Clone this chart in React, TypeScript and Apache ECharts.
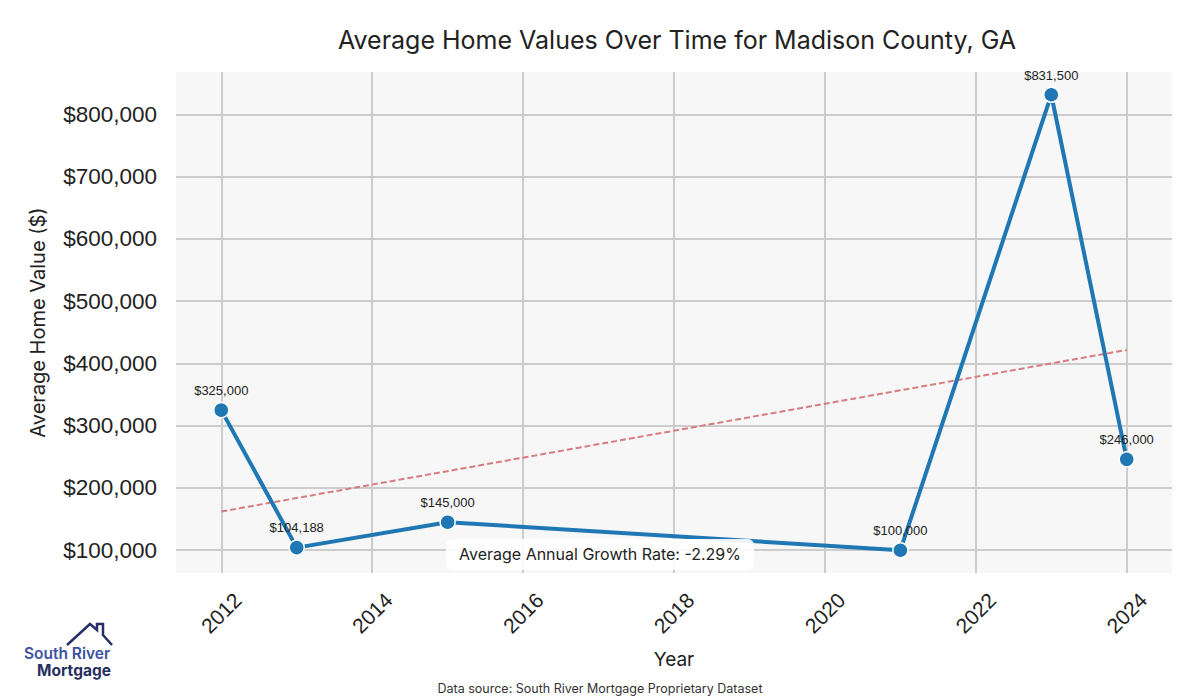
import React, { useEffect, useRef } from "react";
import * as echarts from "echarts";

const years = [2012, 2013, 2015, 2021, 2023, 2024];
const homeValues = [325000, 104188, 145000, 100000, 831500, 246000];
const trendYears = [2012, 2024];
const trendValues = [162200, 421700];
const xTicks = [2012, 2014, 2016, 2018, 2020, 2022, 2024];
const yTicks = [100000, 200000, 300000, 400000, 500000, 600000, 700000, 800000];
const titleText = "Average Home Values Over Time for Madison County, GA";
const growthText = "Average Annual Growth Rate: -2.29%";
const sourceText = "Data source: South River Mortgage Proprietary Dataset";

const fmt = (v: number) => "$" + Math.round(v).toLocaleString("en-US");

export default function App() {
  const ref = useRef<HTMLDivElement>(null);
  useEffect(() => {
    document.body.style.margin = "0";
    const chart = echarts.init(ref.current!, null, { renderer: "svg" });
    const uiFont = "Inter, 'Open Sans', sans-serif";
    const tickFont = "'Liberation Sans', Arial, sans-serif";
    chart.setOption({
      animation: false,
      backgroundColor: "#ffffff",
      title: {
        text: titleText,
        left: 672,
        top: 22,
        textAlign: "center",
        textStyle: { fontFamily: uiFont, fontSize: 25, fontWeight: "normal", color: "#222" },
      },
      grid: {
        left: 176,
        right: 28,
        top: 72,
        bottom: 127,
        show: true,
        backgroundColor: "#f7f7f7",
        borderWidth: 0,
      },
      xAxis: {
        type: "value",
        min: 2011.4,
        max: 2024.6,
        name: "Year",
        nameLocation: "middle",
        nameGap: 77,
        nameTextStyle: { fontFamily: uiFont, fontSize: 19, color: "#222" },
        axisLine: { show: false },
        axisTick: { show: false, customValues: xTicks },
        axisLabel: {
          customValues: xTicks,
          rotate: 45,
          align: "center",
          verticalAlign: "middle",
          margin: 40,
          fontFamily: tickFont,
          fontSize: 21,
          color: "#222",
          formatter: (v: number) => String(v),
        },
        splitLine: { show: true, lineStyle: { color: "#cccccc", width: 2 } },
      },
      yAxis: {
        type: "value",
        min: 63425,
        max: 868075,
        name: "Average Home Value ($)",
        nameLocation: "middle",
        nameGap: 128,
        nameRotate: 90,
        nameTextStyle: { fontFamily: uiFont, fontSize: 20, color: "#222" },
        axisLine: { show: false },
        axisTick: { show: false, customValues: yTicks },
        axisLabel: {
          customValues: yTicks,
          margin: 19,
          fontFamily: tickFont,
          fontSize: 22.5,
          color: "#222",
          formatter: (v: number) => fmt(v),
        },
        splitLine: { show: true, lineStyle: { color: "#cccccc", width: 2 } },
      },
      series: [
        {
          type: "line",
          data: trendYears.map((y, i) => [y, trendValues[i]]),
          symbol: "none",
          lineStyle: { color: "#d67d7f", width: 2, type: [6, 3] },
          z: 2,
          silent: true,
        },
        {
          type: "line",
          data: years.map((y, i) => [y, homeValues[i]]),
          symbol: "circle",
          symbolSize: 15,
          lineStyle: { color: "#1f77b4", width: 4 },
          itemStyle: { color: "#1f77b4", borderColor: "#ffffff", borderWidth: 1.5 },
          label: {
            show: true,
            position: "top",
            distance: 5,
            fontFamily: tickFont,
            fontSize: 13,
            color: "#222",
            formatter: (p: any) => fmt(p.value[1]),
          },
          z: 3,
        },
      ],
      graphic: [
        {
          type: "rect",
          z: 100,
          shape: { x: 446, y: 539, width: 308, height: 31, r: 6 },
          style: { fill: "rgba(255,255,255,0.9)" },
        },
        {
          type: "text",
          z: 101,
          x: 600,
          y: 554,
          style: {
            text: growthText,
            fontFamily: uiFont,
            fontSize: 16,
            fill: "#222",
            align: "center",
            verticalAlign: "middle",
          },
        },
        {
          type: "text",
          x: 600,
          y: 688,
          style: {
            text: sourceText,
            fontFamily: uiFont,
            fontSize: 12.5,
            fill: "#333",
            align: "center",
            verticalAlign: "middle",
          },
        },
        {
          type: "polyline",
          shape: {
            points: [
              [67, 645],
              [90, 624],
              [97, 630],
              [97, 624],
              [103, 624],
              [103, 635],
              [112, 645],
            ],
          },
          style: { stroke: "#262f66", lineWidth: 2.5, fill: null },
        },
        {
          type: "text",
          x: 67,
          y: 653,
          style: {
            text: "South River",
            fontFamily: uiFont,
            fontSize: 15.5,
            fontWeight: 600,
            fill: "#3d52a0",
            align: "center",
            verticalAlign: "middle",
          },
        },
        {
          type: "text",
          x: 74,
          y: 670,
          style: {
            text: "Mortgage",
            fontFamily: uiFont,
            fontSize: 15.5,
            fontWeight: 700,
            fill: "#262f5e",
            align: "center",
            verticalAlign: "middle",
          },
        },
      ],
    });
    return () => chart.dispose();
  }, []);
  return (
    <div
      ref={ref}
      style={{ position: "fixed", left: 0, top: 0, width: 1200, height: 700 }}
    />
  );
}
